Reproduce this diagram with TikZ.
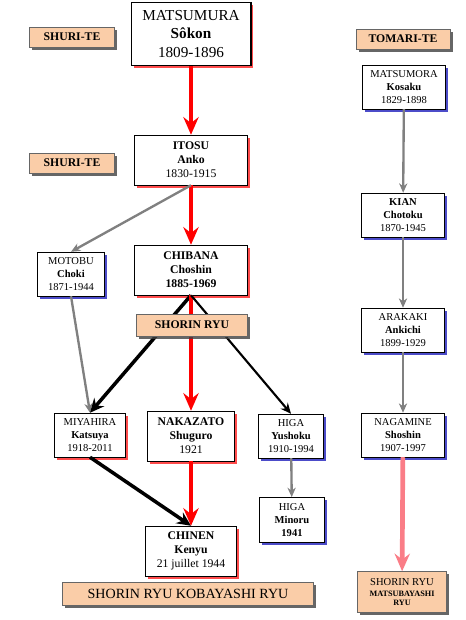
\documentclass[tikz,border=0pt]{standalone}
\usepackage{fontspec}
\setmainfont{Liberation Serif}
\usetikzlibrary{arrows.meta, shadows, positioning}
\definecolor{peach}{RGB}{250,205,168}
\definecolor{softred}{RGB}{250,125,135}
\newcommand{\bigsize}{\fontsize{13}{16}\selectfont}
\newcommand{\midsize}{\fontsize{10}{12}\selectfont}
\newcommand{\smallsize}{\fontsize{9}{11.3}\selectfont}
\newcommand{\tinysize}{\fontsize{7}{9}\selectfont}
\tikzset{
    person/.style={draw, fill=white, align=center, inner sep=0pt},
    midbox/.style={person, font=\midsize, minimum height=1.5cm},
    smallbox/.style={person, font=\smallsize, minimum height=1.32cm},
    redshade/.style={drop shadow={shadow xshift=2.2pt, shadow yshift=-2.2pt, fill=red, opacity=.7}},
    blueshade/.style={drop shadow={shadow xshift=2.2pt, shadow yshift=-2.2pt, fill=blue!70!black, opacity=.7}},
    school/.style={draw=black!60, fill=peach, align=center, inner sep=0pt, font=\midsize\bfseries,
        drop shadow={shadow xshift=2.2pt, shadow yshift=-2.2pt, fill=black!75, opacity=.8}},
    redline/.style={draw=red, line width=4pt, -{Stealth[length=15pt, width=13pt, inset=5pt]}},
    blackline/.style={draw=black, line width=3pt, -{Stealth[length=12pt, width=11pt, inset=4pt]}},
    thinline/.style={draw=black, line width=1.8pt, -{Stealth[length=9pt, width=8pt, inset=3pt]}},
    grayline/.style={draw=gray, line width=2pt, -{Stealth[length=8pt, width=7pt, inset=2.5pt]}},
    pinkline/.style={draw=softred, line width=4pt, -{Stealth[length=15pt, width=13pt, inset=5pt]}}
}

\begin{document}
\begin{tikzpicture}[x=0.03cm, y=-0.03cm]
    \useasboundingbox (0,0) rectangle (465,620);
    % shuri-te side
    \node[person, redshade, line width=1.7pt, font=\bigsize, minimum width=3.57cm, minimum height=1.89cm]
        (matsumura) at (191,34) {MATSUMURA\\\textbf{Sôkon}\\1809-1896};
    \node[midbox, redshade, minimum width=3.39cm] (itosu) at (191,160) {\textbf{ITOSU}\\\textbf{Anko}\\1830-1915};
    \node[smallbox, blueshade, minimum width=2.01cm] (motobu) at (71,274) {MOTOBU\\\textbf{Choki}\\1871-1944};
    \node[midbox, redshade, minimum width=3.39cm] (chibana) at (191,270) {\textbf{CHIBANA}\\\textbf{Choshin}\\\textbf{1885-1969}};
    \node[smallbox, redshade, minimum width=2.13cm] (miyahira) at (90,435) {MIYAHIRA\\\textbf{Katsuya}\\1918-2011};
    \node[midbox, redshade, minimum width=2.61cm] (nakazato) at (191,436) {\textbf{NAKAZATO}\\\textbf{Shuguro}\\1921};
    \node[smallbox, blueshade, minimum width=1.95cm] (higa) at (291,436) {HIGA\\\textbf{Yushoku}\\1910-1994};
    \node[smallbox, blueshade, minimum width=1.95cm, minimum height=1.36cm] (higam) at (292,520) {HIGA\\\textbf{Minoru}\\\textbf{1941}};
    \node[midbox, redshade, minimum width=2.73cm] (chinen) at (191,551) {\textbf{CHINEN}\\\textbf{Kenyu}\\21 juillet 1944};

    % tomari-te side
    \node[smallbox, blueshade, minimum width=2.49cm] (matsumora) at (404,87) {MATSUMORA\\\textbf{Kosaku}\\1829-1898};
    \node[smallbox, blueshade, minimum width=2.49cm] (kian) at (403,215) {\textbf{KIAN}\\\textbf{Chotoku}\\1870-1945};
    \node[smallbox, blueshade, minimum width=2.49cm] (arakaki) at (403,330) {ARAKAKI\\\textbf{Ankichi}\\1899-1929};
    \node[smallbox, blueshade, minimum width=2.49cm] (nagamine) at (403,435) {NAGAMINE\\\textbf{Shoshin}\\1907-1997};

    \draw[redline] (matsumura) -- (itosu);
    \draw[redline] (itosu) -- (chibana);
    \draw[grayline] (itosu.south) -- (motobu.north);
    \draw[grayline] (motobu.south) -- (miyahira.north);
    \draw[blackline] (chibana.south) -- (miyahira.north);
    \draw[redline] (chibana) -- (nakazato);
    \draw[thinline] (chibana.south) -- (higa.north);
    \draw[grayline] (higa) -- (higam);
    \draw[blackline] (miyahira.south) -- (chinen.north);
    \draw[redline] (nakazato) -- (chinen);
    \draw[grayline] (matsumora) -- (kian);
    \draw[grayline] (kian) -- (arakaki);
    \draw[grayline] (arakaki) -- (nagamine);

    % schools
    \node[school, minimum width=2.55cm, minimum height=0.6cm] (shuri1) at (72,37) {SHURI-TE};
    \node[school, minimum width=2.55cm, minimum height=0.6cm] (shuri2) at (72,163) {SHURI-TE};
    \node[school, minimum width=2.82cm, minimum height=0.6cm] (tomari) at (403,39) {TOMARI-TE};
    \node[school, minimum width=3.33cm, minimum height=0.66cm] (shorin) at (192,325) {SHORIN RYU};
    \node[school, font=\fontsize{12}{14}\selectfont, minimum width=7.53cm, minimum height=0.69cm]
        (kobayashi) at (188,594) {SHORIN RYU KOBAYASHI RYU};
    \node[school, font=\smallsize, minimum width=2.67cm, minimum height=1.23cm]
        (matsubayashi) at (402,592) {SHORIN RYU\\[-2pt]{\tinysize\bfseries MATSUBAYASHI}\\[-3pt]{\tinysize\bfseries RYU}};
    \draw[pinkline] (nagamine) -- (matsubayashi);
\end{tikzpicture}
\end{document}
